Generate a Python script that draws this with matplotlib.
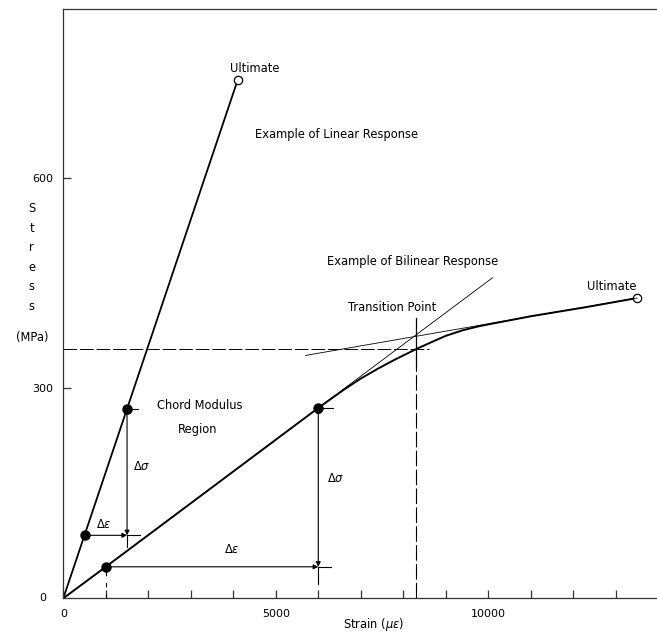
import matplotlib.pyplot as plt

# linear response: origin -> ultimate
linear_strain = [0, 4100]
linear_stress = [0, 740]
linear_chord_strain = [500, 1500]
linear_chord_stress = [90, 271]

# bilinear response curve
bilinear_strain = [0, 1000, 6000, 6600, 7000, 7400, 7800, 8300, 8700, 9000, 9400,
                   9800, 10400, 11000, 12300, 13500]
bilinear_stress = [0, 45, 272, 298, 314, 328, 341, 356, 367, 375, 383,
                   389, 396, 403, 416, 429]
bilinear_chord_strain = [1000, 6000]
bilinear_chord_stress = [45, 272]

# construction lines for the transition point
tangent1_strain = [6000, 10100]
tangent1_stress = [272, 458]
tangent2_strain = [5700, 13500]
tangent2_stress = [347, 429]
transition_strain = 8300
transition_stress = 356

x_ticks = list(range(0, 14000, 1000))
x_labels = ["0", "", "", "", "", "5000", "", "", "", "", "10000", "", "", ""]
y_ticks = [300, 600]

plt.rcParams["font.family"] = ["DejaVu Sans"]
plt.rcParams["mathtext.fontset"] = "dejavusans"

fig = plt.figure(figsize=(6.57, 6.35), dpi=100)
ax = fig.add_axes([63.3 / 657, 36.7 / 635, (657 - 63.3) / 657, (598.3 - 9) / 635])
ax.set_xlim(0, 13970)
ax.set_ylim(0, 842)

for s in ["left", "top", "bottom"]:
    ax.spines[s].set_linewidth(0.9)
    ax.spines[s].set_color("#333333")
ax.spines["right"].set_visible(False)

ax.set_xticks(x_ticks)
ax.set_xticklabels(x_labels, fontsize=8)
ax.set_yticks(y_ticks)
ax.set_yticklabels([str(v) for v in y_ticks], fontsize=8)
ax.tick_params(direction="in", length=5.5, width=0.9, color="#333333")
ax.tick_params(axis="x", pad=8)
ax.tick_params(axis="y", pad=7)
ax.text(-400, 0, "0", fontsize=8, ha="right", va="center")

# linear response
ax.plot(linear_strain, linear_stress, color="black", lw=1.3)
ax.plot(linear_strain[-1], linear_stress[-1], "o", mfc="white", mec="black", ms=6, mew=0.9)
ax.plot(linear_chord_strain, linear_chord_stress, "o", color="black", ms=6.5)

# bilinear response
ax.plot(bilinear_strain, bilinear_stress, color="black", lw=1.4)
ax.plot(bilinear_strain[-1], bilinear_stress[-1], "o", mfc="white", mec="black", ms=6, mew=0.9)
ax.plot(bilinear_chord_strain, bilinear_chord_stress, "o", color="black", ms=6.5)

ax.plot(tangent1_strain, tangent1_stress, color="black", lw=0.6)
ax.plot(tangent2_strain, tangent2_stress, color="black", lw=0.6)
ax.plot([0, 8600], [transition_stress, transition_stress], color="black", lw=0.7,
        dashes=(14, 3))
ax.plot([transition_strain, transition_strain], [0, 330], color="black", lw=0.8,
        dashes=(14, 3))
ax.plot([transition_strain, transition_strain], [330, 400], color="black", lw=0.9)

arrow = dict(arrowstyle="<|-|>", mutation_scale=7, lw=0.8, color="black",
             shrinkA=0, shrinkB=0)
arrow1 = dict(arrowstyle="-|>", mutation_scale=7, lw=0.8, color="black",
              shrinkA=0, shrinkB=0)

# chord modulus construction, linear
x0, x1 = linear_chord_strain
y0, y1 = linear_chord_stress
ax.annotate("", xy=(x1, y0), xytext=(x0, y0), arrowprops=arrow1)
ax.plot([x1, 1800], [y0, y0], color="black", lw=0.8)
ax.annotate("", xy=(x1, y1), xytext=(x1, y0), arrowprops=arrow)
ax.plot([x1, x1], [y0, 73], color="black", lw=0.8)
ax.plot([x1, 1750], [y1, y1], color="black", lw=0.8)

# chord modulus construction, bilinear
x0, x1 = bilinear_chord_strain
y0, y1 = bilinear_chord_stress
ax.annotate("", xy=(x1, y0), xytext=(x0, y0), arrowprops=arrow1)
ax.plot([x1, 6300], [y0, y0], color="black", lw=0.8)
ax.annotate("", xy=(x1, y1), xytext=(x1, y0), arrowprops=arrow)
ax.plot([x1, x1], [y0, 20], color="black", lw=0.8)
ax.plot([x1, 6350], [y1, y1], color="black", lw=0.8)
ax.plot([x0, x0], [0, y0], color="black", lw=0.8, dashes=(4, 6))

fs = 8.3
ax.text(4500, 757, "Ultimate", fontsize=fs, ha="center", va="center")
ax.text(4510, 663, "Example of Linear Response", fontsize=fs, ha="left", va="center")
ax.text(6200, 481, "Example of Bilinear Response", fontsize=fs, ha="left", va="center")
ax.text(6700, 415, "Transition Point", fontsize=fs, ha="left", va="center")
ax.text(12910, 446, "Ultimate", fontsize=fs, ha="center", va="center")
ax.text(2200, 276, "Chord Modulus", fontsize=fs, ha="left", va="center")
ax.text(3170, 241, "Region", fontsize=fs, ha="center", va="center")
ax.text(1650, 188, r"$\Delta\sigma$", fontsize=fs, ha="left", va="center")
ax.text(770, 106, r"$\Delta\epsilon$", fontsize=fs, ha="left", va="center")
ax.text(6200, 171, r"$\Delta\sigma$", fontsize=fs, ha="left", va="center")
ax.text(3960, 70, r"$\Delta\epsilon$", fontsize=fs, ha="center", va="center")

ax.text(-740, 487, "S\nt\nr\ne\ns\ns", fontsize=fs, ha="center", va="center",
        linespacing=1.65, clip_on=False)
ax.text(-740, 372, "(MPa)", fontsize=fs, ha="center", va="center", clip_on=False)
ax.text(7300, -38, r"Strain ($\mu\epsilon$)", fontsize=fs, ha="center", va="center",
        clip_on=False)

fig.savefig("out.png", dpi=100)
